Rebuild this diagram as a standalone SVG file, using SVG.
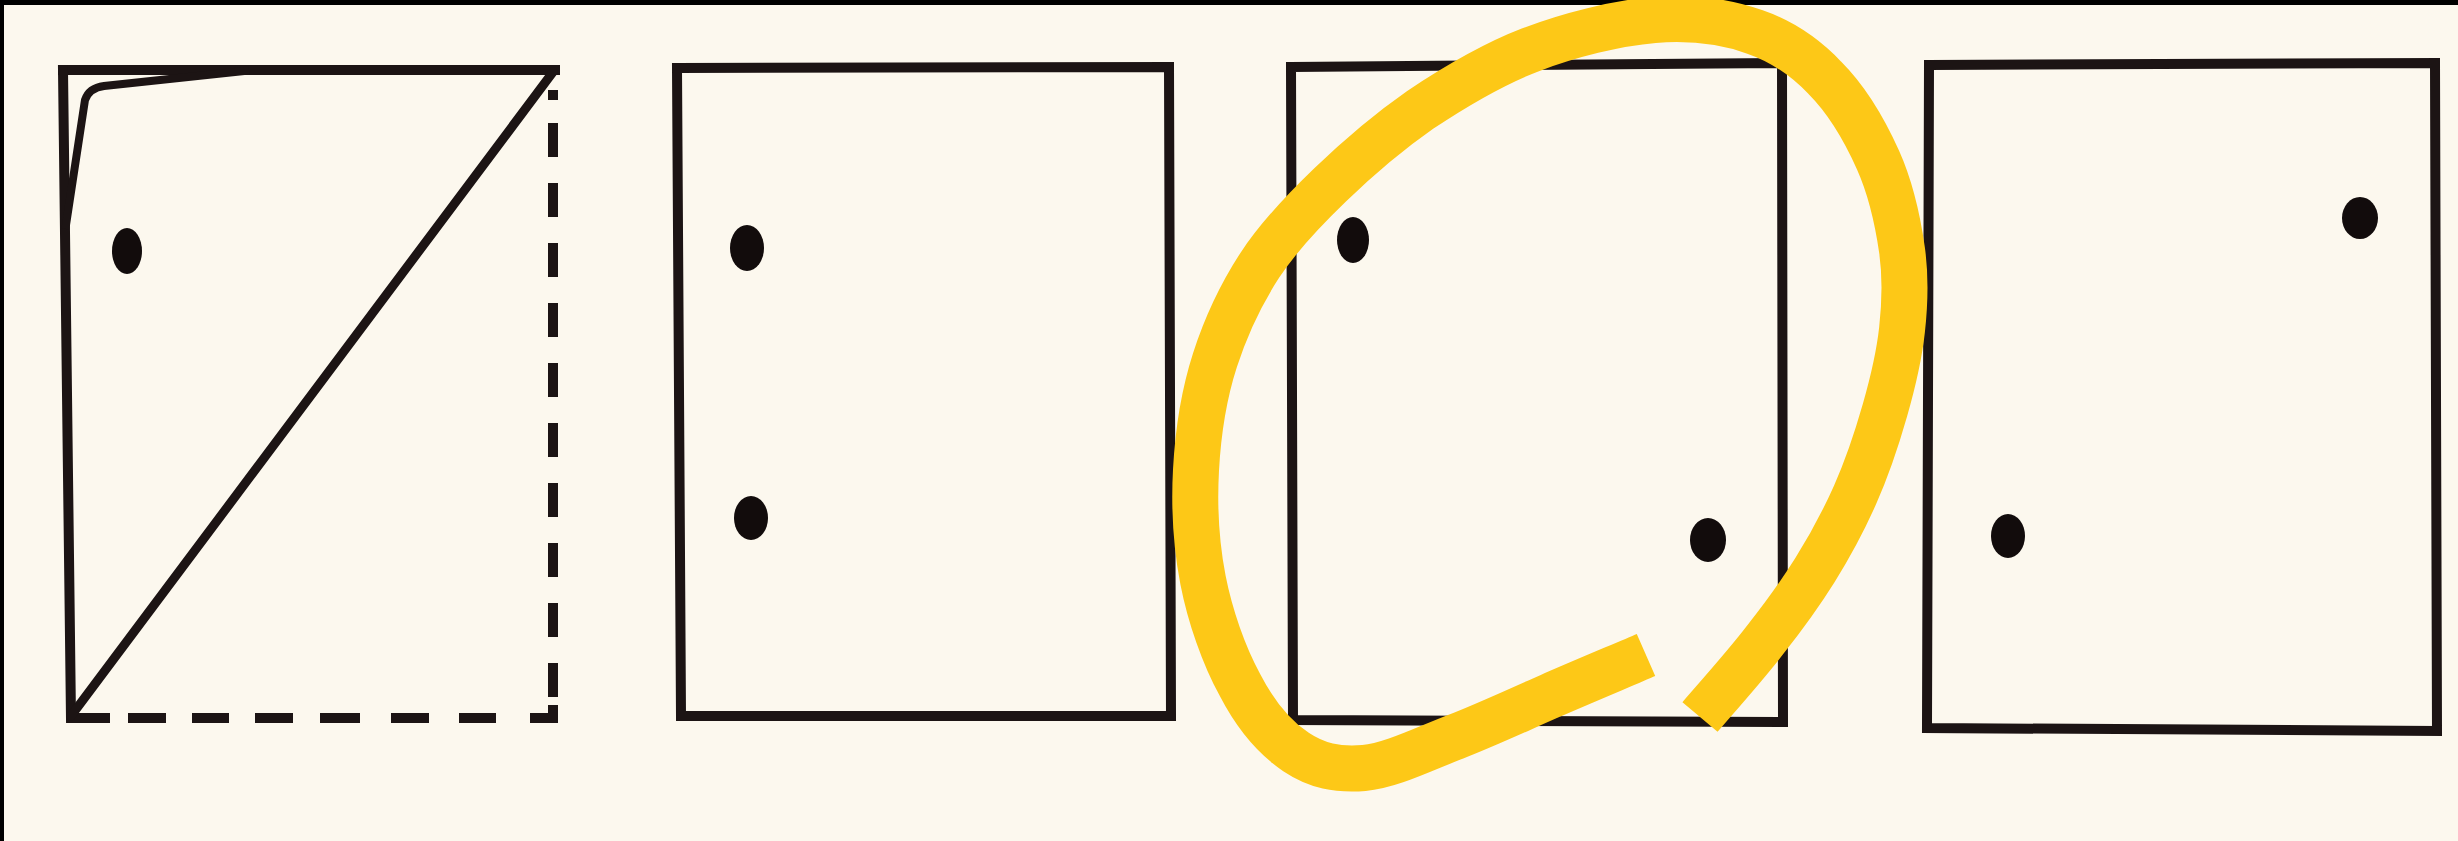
<svg xmlns="http://www.w3.org/2000/svg" width="2458" height="841" viewBox="0 0 2458 841">
<style>
.ln{fill:none;stroke:#1c1414;stroke-width:10;stroke-linejoin:miter;stroke-linecap:square}
.dash{fill:none;stroke:#1c1414;stroke-width:10;stroke-linecap:butt}
.dot{fill:#120c0c}
.hl{fill:none;stroke:#fdc817;stroke-width:46;stroke-linecap:butt;stroke-linejoin:round}
</style>
<rect x="0" y="0" width="2458" height="841" fill="#fcf8ee"/>
<rect x="0" y="0" width="2458" height="5" fill="#000"/>
<rect x="0" y="0" width="4" height="841" fill="#000"/>

<g id="panel1">
  <path class="ln" d="M63,70 L555,70"/>
  <path class="ln" d="M63,70 L71,718 L105,718"/>
  <path class="ln" style="stroke-width:8" d="M66,225 L85,100 Q89,88 104,86 L245,71"/>
  <path class="ln" style="stroke-width:9;stroke-linecap:round" d="M71,716 L553,72"/>
  <path class="dash" d="M553,90 L553,100 M553,123 L553,700" stroke-dasharray="34 26"/>
  <path class="dash" d="M553,705 L553,718 L530,718 M128,718 L166,718 M192,718 L229,718 M255,718 L293,718 M320,718 L360,718 M391,718 L429,718 M459,718 L496,718"/>
  <ellipse class="dot" cx="127" cy="251" rx="15" ry="23"/>
</g>

<g id="panel2">
  <path class="ln" d="M677,68 L1169,67 L1171,716 L681,716 Z"/>
  <ellipse class="dot" cx="747" cy="248" rx="17" ry="23"/>
  <ellipse class="dot" cx="751" cy="518" rx="17" ry="22"/>
</g>

<g id="panel3">
  <path class="ln" d="M1291,67 L1782,63 L1783,722 L1293,720 Z"/>
  <ellipse class="dot" cx="1353" cy="240" rx="16" ry="23"/>
  <ellipse class="dot" cx="1708" cy="540" rx="18" ry="22"/>
</g>

<g id="panel4">
  <path class="ln" d="M1929,65 L2435,63 L2437,731 L1927,728 Z"/>
  <ellipse class="dot" cx="2360" cy="218" rx="18" ry="21"/>
  <ellipse class="dot" cx="2008" cy="536" rx="17" ry="22"/>
</g>

<g id="connectors">
  <path class="hl" d="M1646,655 C1630,662 1582,682 1550,696 C1518,710 1486,725 1455,737 C1424,749 1390,766 1364,768 C1337,770 1317,766 1296,752 C1275,738 1255,714 1240,685 C1224,656 1210,616 1203,580 C1196,544 1194,507 1196,470 C1198,433 1204,394 1215,360 C1226,326 1241,294 1260,265 C1279,236 1303,211 1330,185 C1357,159 1387,133 1420,110 C1453,88 1491,65 1530,50 C1569,35 1617,23 1654,20 C1692,17 1727,22 1755,32 C1784,42 1805,57 1825,78 C1846,99 1865,131 1878,160 C1891,189 1898,222 1902,250 C1906,278 1905,303 1902,330 C1899,357 1893,382 1885,410 C1877,438 1867,468 1855,495 C1843,522 1830,546 1815,570 C1800,594 1784,616 1765,640 C1746,665 1711,704 1700,717"/>
</g>
</svg>
